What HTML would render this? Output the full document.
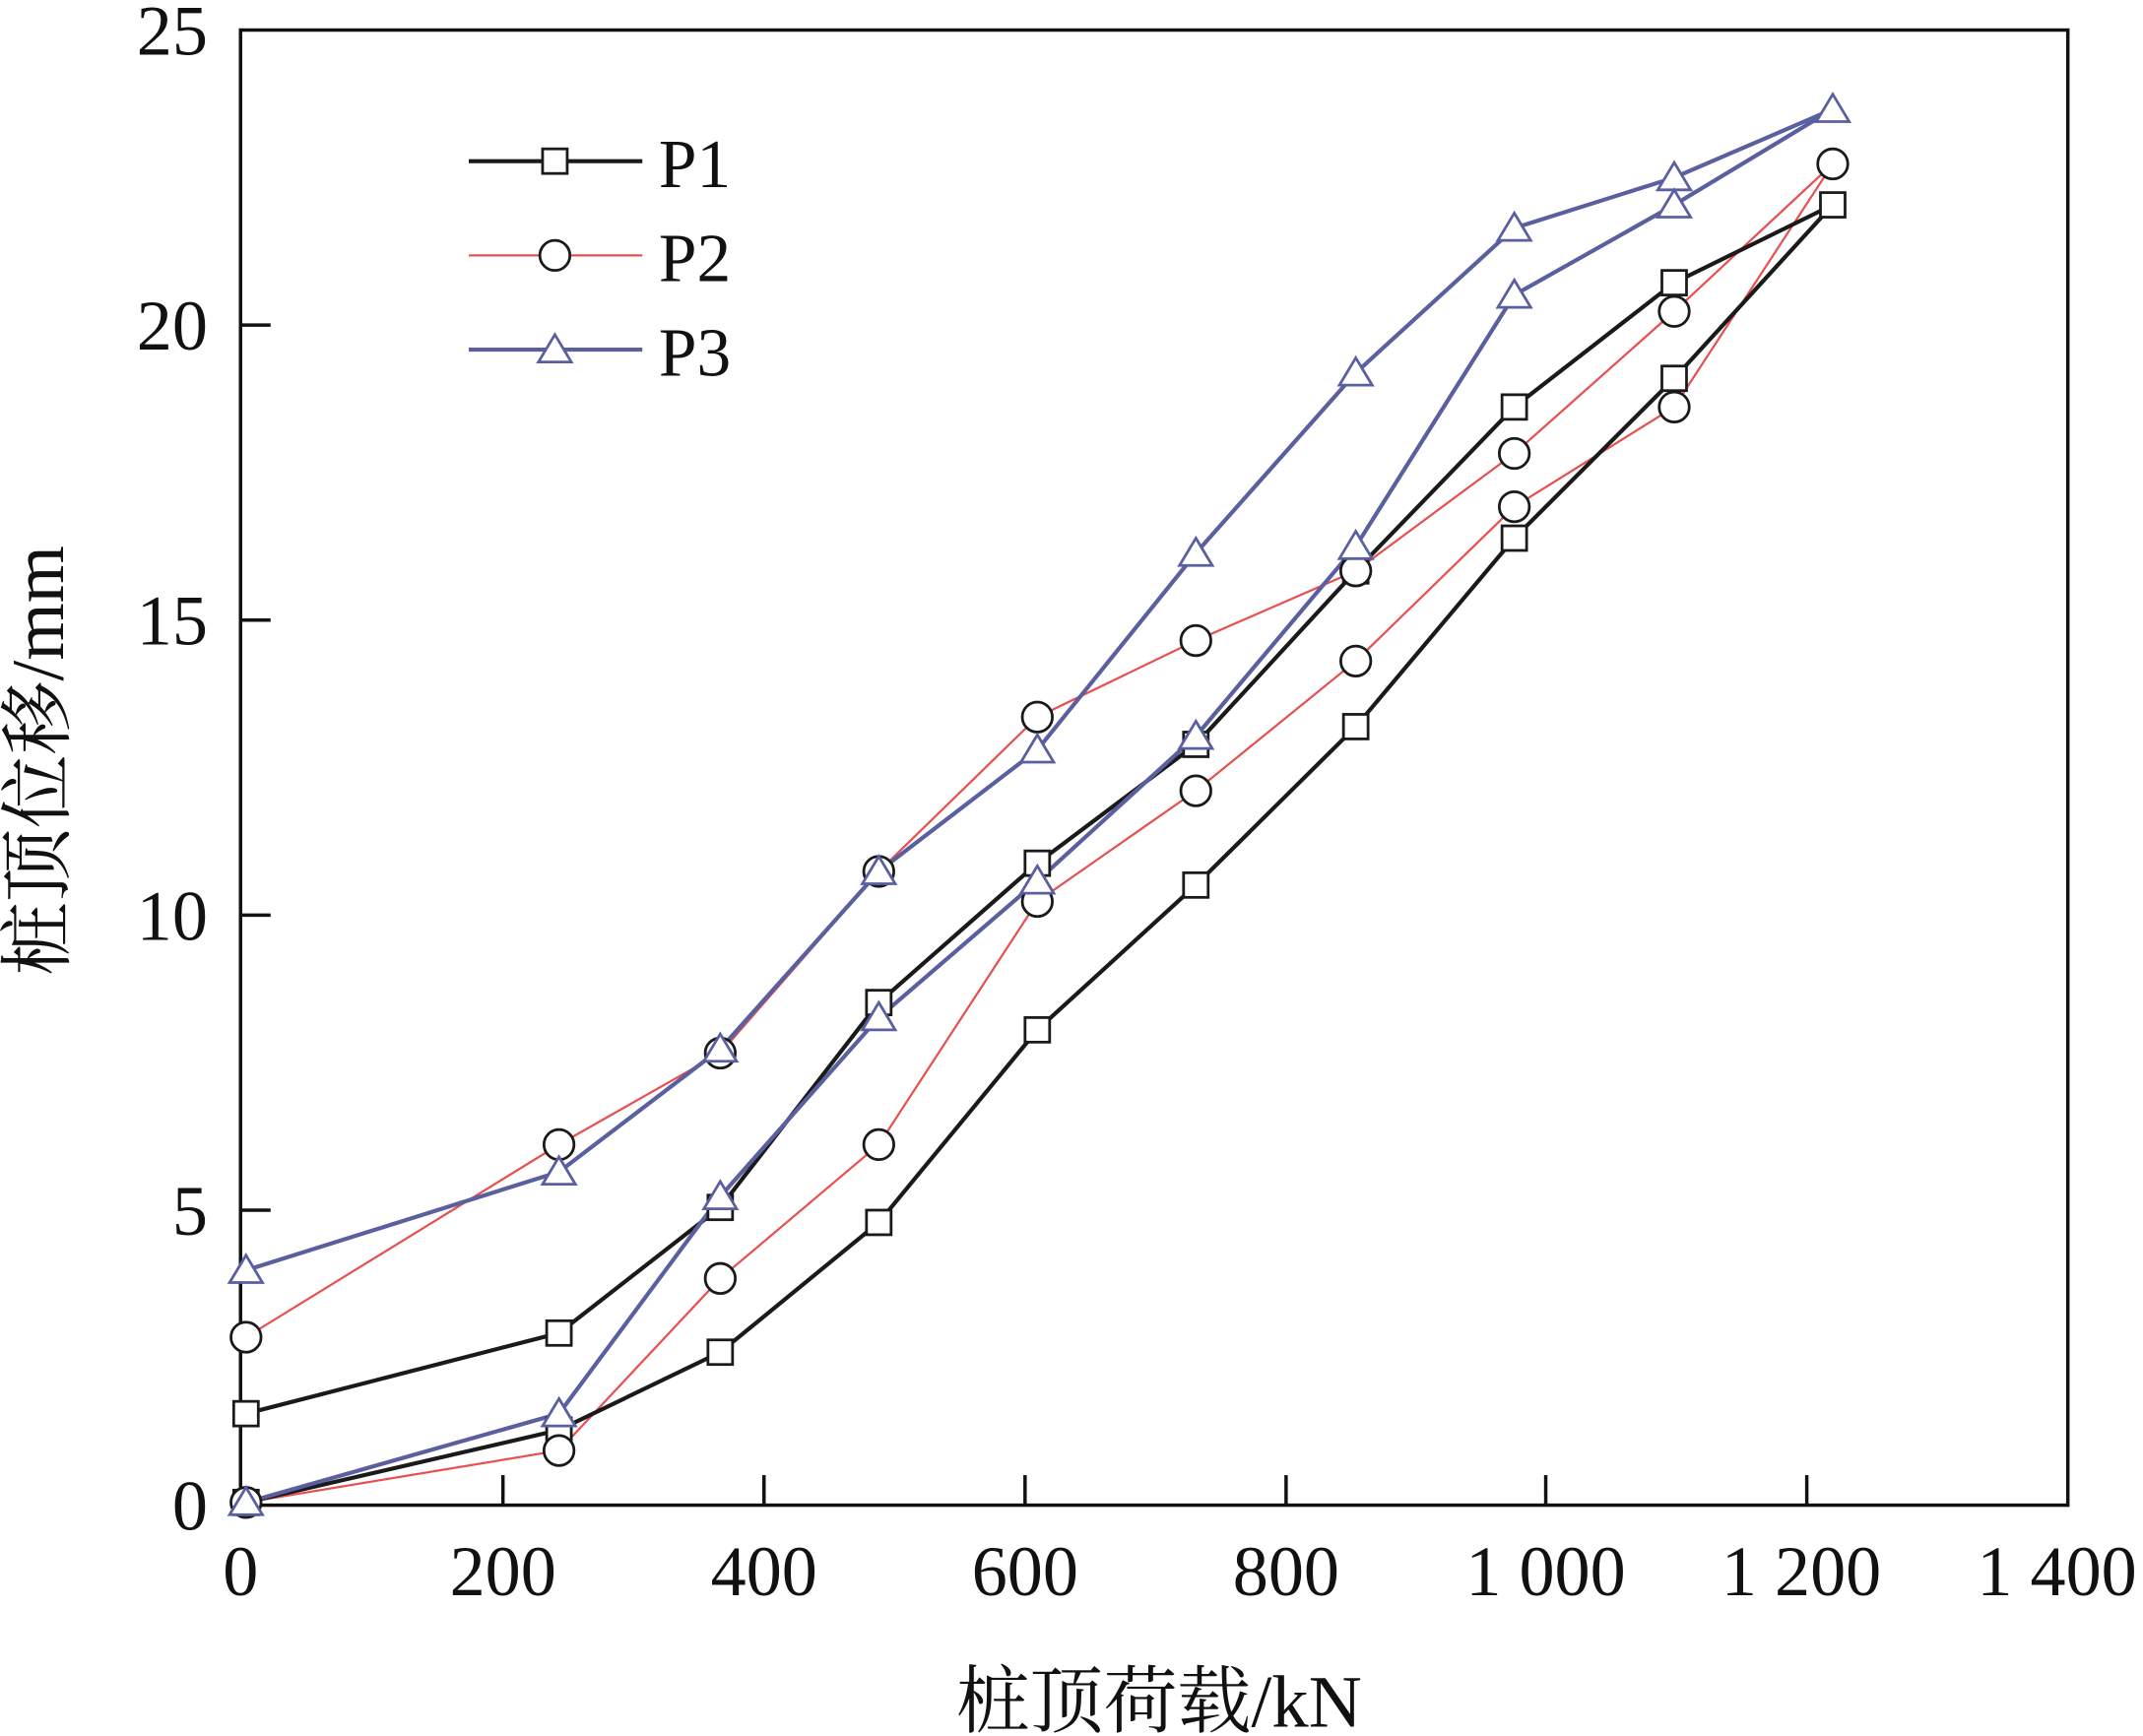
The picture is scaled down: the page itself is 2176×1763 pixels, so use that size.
<!DOCTYPE html>
<html><head><meta charset="utf-8"><style>
html,body{margin:0;padding:0;background:#fff;}
svg{display:block;}
text{font-family:"Liberation Serif","Noto Serif CJK SC",serif;fill:#111;}
</style></head><body>
<svg width="2176" height="1763" viewBox="0 0 1568 1271" preserveAspectRatio="none" xmlns="http://www.w3.org/2000/svg">
<rect x="0" y="0" width="1568" height="1271" fill="#fff"/>
<rect x="176" y="22" width="1337" height="1080" fill="none" stroke="#111" stroke-width="2.5"/>
<g stroke="#111" stroke-width="2.5">
<line x1="368" y1="1102" x2="368" y2="1080"/><line x1="559" y1="1102" x2="559" y2="1080"/>
<line x1="750" y1="1102" x2="750" y2="1080"/><line x1="941" y1="1102" x2="941" y2="1080"/>
<line x1="1131" y1="1102" x2="1131" y2="1080"/><line x1="1322" y1="1102" x2="1322" y2="1080"/>
<line x1="176" y1="886" x2="198" y2="886"/><line x1="176" y1="670" x2="198" y2="670"/>
<line x1="176" y1="454" x2="198" y2="454"/><line x1="176" y1="238" x2="198" y2="238"/>
</g>
<g font-size="52" text-anchor="middle">
<text x="176" y="1168">0</text><text x="368" y="1168">200</text><text x="559" y="1168">400</text>
<text x="750" y="1168">600</text><text x="941" y="1168">800</text><text x="1131" y="1168">1 000</text>
<text x="1318" y="1168">1 200</text><text x="1505" y="1168">1 400</text>
</g>
<g font-size="52" text-anchor="end">
<text x="152" y="1120">0</text><text x="152" y="904">5</text><text x="152" y="688">10</text>
<text x="152" y="472">15</text><text x="152" y="256">20</text><text x="152" y="40">25</text>
</g>
<text x="848" y="1264" font-size="54" text-anchor="middle">桩顶荷载/kN</text>
<text transform="translate(46,557) rotate(-90)" font-size="54" text-anchor="middle">桩顶位移/mm</text>

<polyline fill="none" stroke="#e85050" stroke-width="1.6" points="180,1100 409,1062 527,936 643,838 759,660 875,579 992,484 1108,371 1225,298 1341,120 1225,228 1108,332 992,418 875,469 759,525 643,638 527,771 409,838 180,979"/>
<polyline fill="none" stroke="#1a1a1a" stroke-width="3" points="180,1100 409,1047 527,990 643,895 759,754 875,648 992,532 1108,394 1225,277 1341,150 1225,207 1108,298 992,418 875,545 759,632 643,734 527,884 409,976 180,1035"/>
<polyline fill="none" stroke="#5a5fa0" stroke-width="3" points="180,1100 409,1035 527,876 643,745 759,645 875,539 992,400 1108,216 1225,150 1341,80 1225,130 1108,167 992,273 875,405 759,549 643,638 527,768 409,858 180,930"/>

<g fill="#fff" stroke="#1a1a1a" stroke-width="2">
<rect x="171" y="1091" width="18" height="18"/><rect x="400" y="1038" width="18" height="18"/><rect x="518" y="981" width="18" height="18"/><rect x="634" y="886" width="18" height="18"/><rect x="750" y="745" width="18" height="18"/><rect x="866" y="639" width="18" height="18"/><rect x="983" y="523" width="18" height="18"/><rect x="1099" y="385" width="18" height="18"/><rect x="1216" y="268" width="18" height="18"/><rect x="1332" y="141" width="18" height="18"/><rect x="1216" y="198" width="18" height="18"/><rect x="1099" y="289" width="18" height="18"/><rect x="983" y="409" width="18" height="18"/><rect x="866" y="536" width="18" height="18"/><rect x="750" y="623" width="18" height="18"/><rect x="634" y="725" width="18" height="18"/><rect x="518" y="875" width="18" height="18"/><rect x="400" y="967" width="18" height="18"/><rect x="171" y="1026" width="18" height="18"/>
</g>
<g fill="#fff" stroke="#1a1a1a" stroke-width="2">
<circle cx="180" cy="1100" r="11"/><circle cx="409" cy="1062" r="11"/><circle cx="527" cy="936" r="11"/><circle cx="643" cy="838" r="11"/><circle cx="759" cy="660" r="11"/><circle cx="875" cy="579" r="11"/><circle cx="992" cy="484" r="11"/><circle cx="1108" cy="371" r="11"/><circle cx="1225" cy="298" r="11"/><circle cx="1341" cy="120" r="11"/><circle cx="1225" cy="228" r="11"/><circle cx="1108" cy="332" r="11"/><circle cx="992" cy="418" r="11"/><circle cx="875" cy="469" r="11"/><circle cx="759" cy="525" r="11"/><circle cx="643" cy="638" r="11"/><circle cx="527" cy="771" r="11"/><circle cx="409" cy="838" r="11"/><circle cx="180" cy="979" r="11"/>
</g>
<g fill="#fff" stroke="#5a5fa0" stroke-width="2">
<path d="M180,1089 l12,20 h-24z M409,1024 l12,20 h-24z M527,865 l12,20 h-24z M643,734 l12,20 h-24z M759,634 l12,20 h-24z M875,528 l12,20 h-24z M992,389 l12,20 h-24z M1108,205 l12,20 h-24z M1225,139 l12,20 h-24z M1341,69 l12,20 h-24z M1225,119 l12,20 h-24z M1108,156 l12,20 h-24z M992,262 l12,20 h-24z M875,394 l12,20 h-24z M759,538 l12,20 h-24z M643,627 l12,20 h-24z M527,757 l12,20 h-24z M409,847 l12,20 h-24z M180,919 l12,20 h-24z"/>
</g>

<line x1="343" y1="118" x2="470" y2="118" stroke="#1a1a1a" stroke-width="3"/>
<rect x="397" y="109" width="18" height="18" fill="#fff" stroke="#1a1a1a" stroke-width="2"/>
<line x1="343" y1="187" x2="470" y2="187" stroke="#e85050" stroke-width="1.6"/>
<circle cx="406" cy="187" r="11" fill="#fff" stroke="#1a1a1a" stroke-width="2"/>
<line x1="343" y1="256" x2="470" y2="256" stroke="#5a5fa0" stroke-width="3"/>
<path d="M406,245 l12,20 h-24z" fill="#fff" stroke="#5a5fa0" stroke-width="2"/>
<g font-size="50"><text x="482" y="137">P1</text><text x="482" y="206">P2</text><text x="482" y="275">P3</text></g>
</svg>
</body></html>
